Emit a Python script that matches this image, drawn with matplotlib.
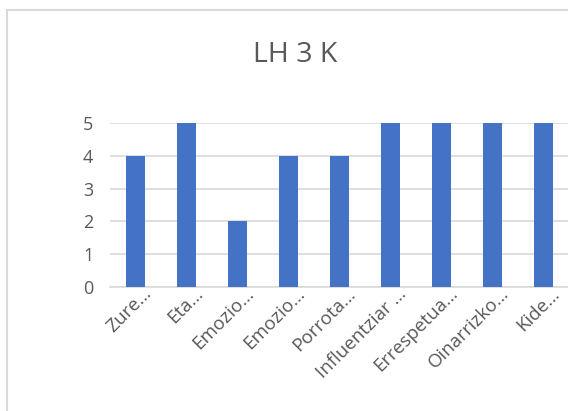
import matplotlib
matplotlib.use("Agg")
import matplotlib.pyplot as plt
import matplotlib.transforms as mtransforms
from matplotlib.patches import Rectangle

categories = ["Zure…", "Eta…", "Emozio…", "Emozio…", "Porrota…",
              "Influentziar …", "Errespetua…", "Oinarrizko…", "Kide…"]
values = [4, 5, 2, 4, 4, 5, 5, 5, 5]
yticks = [0, 1, 2, 3, 4, 5]
title = "LH 3 K"

plt.rcParams['font.family'] = ['Open Sans', 'DejaVu Sans']

fig = plt.figure(figsize=(5.68, 4.11), dpi=100)
fig.patch.set_facecolor('white')

# chart border
fig.add_artist(Rectangle((7 / 568, -0.1), 1.2, 1 - 10 / 411 + 0.1,
                         transform=fig.transFigure, fill=False,
                         edgecolor='#d9d9d9', linewidth=1.5))

ax = fig.add_axes([110 / 568, 1 - 287.3 / 411, (569 - 110) / 568, (287.3 - 122.7) / 411])
x = list(range(len(categories)))
ax.bar(x, values, width=0.39, color='#4472C4', zorder=3)
ax.set_xlim(-0.5, len(categories) - 0.5)
ax.set_ylim(0, 5)
ax.set_yticks(yticks)
ax.set_yticklabels([str(v) for v in yticks])
ax.grid(axis='y', color='#d9d9d9', linewidth=1.2, zorder=0)
for s in ['top', 'right', 'left']:
    ax.spines[s].set_visible(False)
ax.spines['bottom'].set_color('#d9d9d9')
ax.spines['bottom'].set_linewidth(1.2)
ax.tick_params(axis='both', length=0, colors='#595959', labelsize=13)
ax.tick_params(axis='y', pad=12)
ax.set_xticks(x)
ax.set_xticklabels(categories, rotation=45, ha='right', va='top',
                   rotation_mode='anchor', fontsize=13.5)
ax.tick_params(axis='x', pad=-2)
offset = mtransforms.ScaledTranslation(7 / 100, 0, fig.dpi_scale_trans)
for lab in ax.get_xticklabels():
    lab.set_transform(lab.get_transform() + offset)

fig.text(295 / 568, 1 - 55 / 411, title, ha='center', va='center',
         fontsize=20.5, color='#595959')

fig.savefig('out.png', dpi=100, facecolor='white')
